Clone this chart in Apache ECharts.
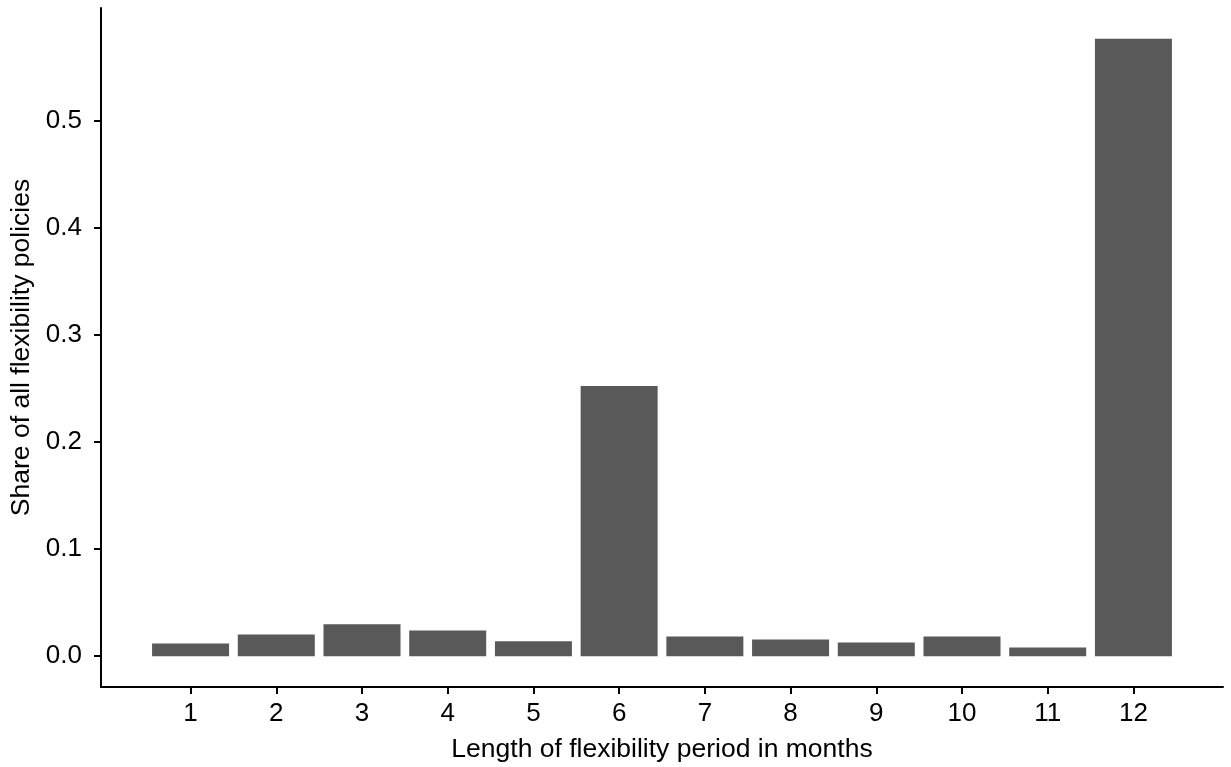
<!DOCTYPE html>
<html>
<head>
<meta charset="utf-8">
<script src="https://cdn.jsdelivr.net/npm/echarts@6/dist/echarts.min.js"></script>
<style>
  html, body { margin: 0; padding: 0; background: #fff; }
  #chart { width: 1231px; height: 767px; }
</style>
</head>
<body>
<div id="chart"></div>
<script>
// months (x) and share of policies (y)
var months = [1, 2, 3, 4, 5, 6, 7, 8, 9, 10, 11, 12];
var shares = [0.0119, 0.0203, 0.0297, 0.0240, 0.0138, 0.2526, 0.0184, 0.0156, 0.0128, 0.0184, 0.0081, 0.5770];
var yTicks = [0, 0.1, 0.2, 0.3, 0.4, 0.5];

var font = '"Liberation Sans", Arial, sans-serif';

var chart = echarts.init(document.getElementById('chart'));

// ggplot-style 5% expansion on both axes
var yMax = Math.max.apply(null, shares);
var yPad = yMax * 0.05;
var xPad = (months[months.length - 1] - months[0] + 0.9) * 0.05;

chart.setOption({
    animation: false,
    grid: { left: 101, right: 8, top: 8, bottom: 80, containLabel: false, outerBoundsMode: 'none' },
    xAxis: {
        type: 'value',
        min: months[0] - 0.45 - xPad,
        max: months[months.length - 1] + 0.45 + xPad,
        name: 'Length of flexibility period in months',
        nameLocation: 'middle',
        nameGap: 49,
        nameTextStyle: { color: '#000', fontSize: 26.5, fontFamily: font },
        splitLine: { show: false },
        axisLine: { show: true, onZero: false, lineStyle: { color: '#000', width: 2 } },
        axisTick: { show: true, length: 7, customValues: months, lineStyle: { color: '#000', width: 2 } },
        axisLabel: { customValues: months, color: '#000', fontSize: 26, fontFamily: font, margin: 14 }
    },
    yAxis: {
        type: 'value',
        min: -yPad,
        max: yMax + yPad,
        name: 'Share of all flexibility policies',
        nameLocation: 'middle',
        nameGap: 66,
        nameTextStyle: { color: '#000', fontSize: 26.5, fontFamily: font },
        splitLine: { show: false },
        axisLine: { show: true, onZero: false, lineStyle: { color: '#000', width: 2 } },
        axisTick: { show: true, length: 7, customValues: yTicks, lineStyle: { color: '#000', width: 2 } },
        axisLabel: {
            customValues: yTicks, color: '#000', fontSize: 26, fontFamily: font, margin: 19,
            formatter: function (v) { return v.toFixed(1); }
        }
    },
    series: [{
        type: 'bar',
        barWidth: 77,
        itemStyle: { color: '#595959' },
        data: months.map(function (m, i) { return [m, shares[i]]; })
    }]
});
</script>
</body>
</html>
